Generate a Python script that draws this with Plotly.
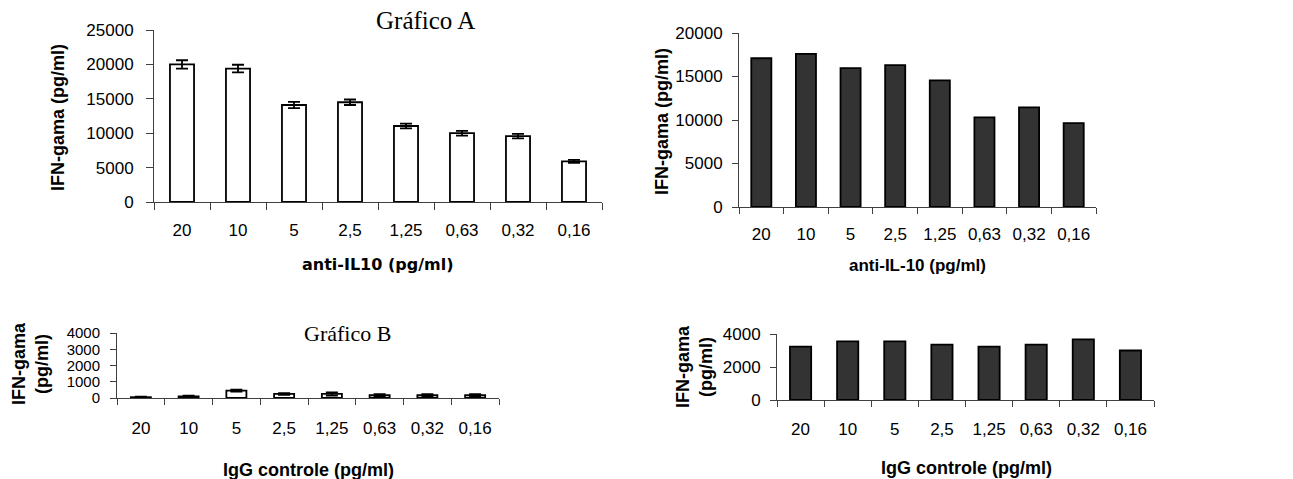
import plotly.graph_objects as go

W, H = 1293, 479

categories = ["20", "10", "5", "2,5", "1,25", "0,63", "0,32", "0,16"]

# Gráfico A (left, with error bars) and right companion
a_left_values = [20000, 19400, 14100, 14500, 11050, 10000, 9570, 5900]
a_left_errors = [600, 550, 450, 400, 350, 350, 330, 220]
a_right_values = [17100, 17600, 15970, 16300, 14550, 10300, 11450, 9650]

# Gráfico B (left, with error bars) and right companion
b_left_values = [50, 100, 450, 250, 250, 170, 170, 170]
b_left_errors = [40, 40, 60, 50, 100, 60, 60, 70]
b_right_values = [3230, 3550, 3550, 3350, 3230, 3350, 3670, 3000]

y_title = "IFN-gama (pg/ml)"
y_title_2l = "IFN-gama<br>(pg/ml)"
x_title_a1 = "anti-IL10 (pg/ml)"
x_title_a2 = "anti-IL-10 (pg/ml)"
x_title_b = "IgG controle (pg/ml)"

SANS = "Liberation Sans, Arial, sans-serif"
WIDE = "DejaVu Sans, Liberation Sans, sans-serif"
SERIF = "Liberation Serif, Times New Roman, serif"


def px_x(x0, x1):
    return [x0 / W, x1 / W]


def px_y(ybottom, ytop):
    return [1 - ybottom / H, 1 - ytop / H]


fig = go.Figure()

panels = [
    dict(v=a_left_values, e=a_left_errors, fill="white", bw=0.43,
         xd=px_x(154, 602), yd=px_y(202, 30), yr=[0, 25000], dt=5000,
         xso=13, yso=9, tl=7, yfs=17),
    dict(v=a_right_values, e=None, fill="#333333", bw=0.45,
         xd=px_x(739, 1096), yd=px_y(207, 33), yr=[0, 20000], dt=5000,
         xso=12, yso=6, tl=6, yfs=17),
    dict(v=b_left_values, e=b_left_errors, fill="white", bw=0.42,
         xd=px_x(117, 499), yd=px_y(398, 333), yr=[0, 4000], dt=1000,
         xso=15, yso=7, tl=6, yfs=15),
    dict(v=b_right_values, e=None, fill="#333333", bw=0.45,
         xd=px_x(777, 1154), yd=px_y(400, 334), yr=[0, 4000], dt=2000,
         xso=14, yso=6, tl=6, yfs=17),
]

for i, p in enumerate(panels, start=1):
    sfx = "" if i == 1 else str(i)
    err = None
    if p["e"] is not None:
        err = dict(type="data", array=p["e"], visible=True, color="black",
                   thickness=1.8, width=6)
    fig.add_trace(go.Bar(
        x=categories, y=p["v"], error_y=err, width=p["bw"],
        marker=dict(color=p["fill"], line=dict(color="black", width=1.8)),
        xaxis="x" + sfx, yaxis="y" + sfx, showlegend=False,
    ))
    fig.layout["xaxis" + sfx] = dict(
        domain=p["xd"], anchor="y" + sfx, type="category", automargin=False,
        range=[-0.5, 7.5], tickson="boundaries", ticks="outside",
        ticklen=p["tl"], tickwidth=1,
        tickcolor="#404040", showline=True, linecolor="#404040", linewidth=1,
        showgrid=False, zeroline=False, ticklabelstandoff=p["xso"],
        tickfont=dict(family=SANS, size=17, color="black"),
    )
    fig.layout["yaxis" + sfx] = dict(
        domain=p["yd"], anchor="x" + sfx, range=p["yr"], dtick=p["dt"],
        tick0=0, tickformat="d", automargin=False,
        ticks="outside", ticklen=p["tl"], tickwidth=1, tickcolor="#404040",
        showline=True, linecolor="#404040", linewidth=1, showgrid=False,
        zeroline=False, ticklabelstandoff=p["yso"],
        tickfont=dict(family=SANS, size=p["yfs"], color="black"),
    )

ann = []


def add_text(text, x, y, size, family=SANS, bold=False, angle=0):
    ann.append(dict(
        text=f"<b>{text}</b>" if bold else text,
        x=x / W, y=1 - y / H, xref="paper", yref="paper",
        xanchor="center", yanchor="middle", showarrow=False, textangle=angle,
        font=dict(family=family, size=size, color="black"),
    ))


add_text("Gráfico A", 425, 20, 25, family=SERIF)
add_text("Gráfico B", 347, 333, 22, family=SERIF)

add_text(y_title, 58, 118, 18, bold=True, angle=-90)
add_text(y_title, 662, 122, 18, bold=True, angle=-90)
add_text(y_title_2l, 30, 364, 18, bold=True, angle=-90)
add_text(y_title_2l, 694, 367, 18, bold=True, angle=-90)

add_text(x_title_a1, 377, 264, 16, family=WIDE, bold=True)
add_text(x_title_a2, 917, 265, 17, bold=True)
add_text(x_title_b, 308, 470, 18, bold=True)
add_text(x_title_b, 967, 468, 18, bold=True)

fig.update_layout(
    template="none",
    width=W, height=H, autosize=False,
    margin=dict(l=0, r=0, t=0, b=0, pad=0),
    paper_bgcolor="white", plot_bgcolor="white",
    annotations=ann, bargap=0.5,
)

fig.write_html(
    "out.html",
    config={"displayModeBar": False},
    post_script="document.body.style.margin='0';"
                "document.body.style.overflow='hidden';",
)
